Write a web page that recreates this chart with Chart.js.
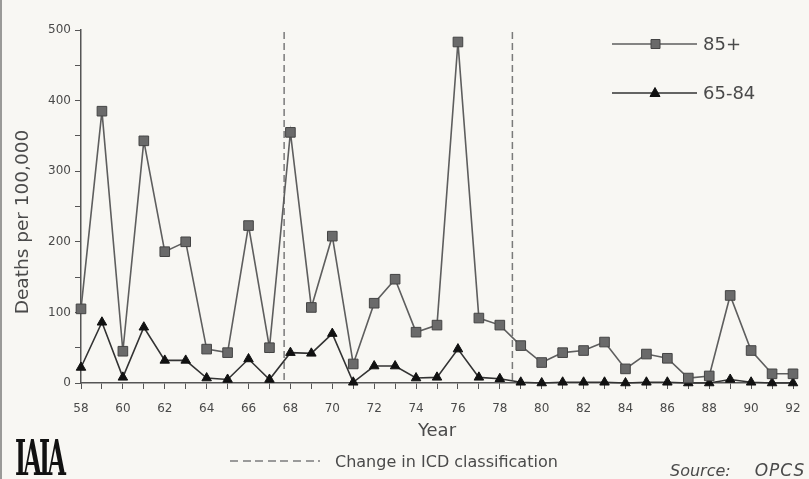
<!DOCTYPE html>
<html>
<head>
<meta charset="utf-8">
<script src="https://cdn.jsdelivr.net/npm/chart.js@4.4.1/dist/chart.umd.min.js"></script>
<style>
  html, body { margin: 0; padding: 0; background: #f8f7f3; }
  #wrap { position: relative; width: 809px; height: 479px; overflow: hidden; background: #f8f7f3; border-left: 2px solid #9a9a98; box-sizing: border-box; }
  #c { position: absolute; left: 0; top: 0; }
  .ft { position: absolute; font-family: "DejaVu Sans", sans-serif; color: #4a4a4a; white-space: nowrap; }
  #logo { left: 13px; top: 433px; font-family: "DejaVu Serif Condensed", "DejaVu Serif", serif; font-weight: bold; font-size: 48px; line-height: 50px; color: #111; letter-spacing: -5px; transform: scaleX(0.55); transform-origin: left top; }
  #dash { position: absolute; left: 228px; top: 460px; width: 90px; height: 2px; background: repeating-linear-gradient(to right, #9a9a9a 0 8px, transparent 8px 12.6px); }
  #icd { left: 333px; top: 453px; font-size: 16px; line-height: 18px; }
  #src { left: 668px; top: 461px; font-size: 16px; line-height: 19px; font-style: italic; }
  #src span { margin-left: 24px; font-size: 17px; letter-spacing: 1px; }
</style>
</head>
<body>
<div id="wrap">
  <canvas id="c" width="807" height="479"></canvas>
  <div class="ft" id="logo">IAIA</div>
  <div id="dash"></div>
  <div class="ft" id="icd">Change in ICD classification</div>
  <div class="ft" id="src">Source:<span>OPCS</span></div>
</div>
<script>
const years = [58,59,60,61,62,63,64,65,66,67,68,69,70,71,72,73,74,75,76,77,78,79,80,81,82,83,84,85,86,87,88,89,90,91,92];
const deaths85plus = [105,385,45,343,186,200,48,43,223,50,355,107,208,27,113,147,72,82,483,92,82,53,29,43,46,58,20,41,35,7,10,124,46,13,13];
const deaths65to84 = [22,86,8,79,32,32,7,5,34,5,43,42,70,1,24,24,7,8,48,8,6,1,0,1,1,1,0,1,1,0,0,5,1,0,0];
const seriesLabels = ["85+", "65-84"];
const icdChangeYears = [67.7, 78.6];
const yTickLabels = [0,100,200,300,400,500];
const xTickLabels = [58,60,62,64,66,68,70,72,74,76,78,80,82,84,86,88,90,92];
const axisTitleX = "Year";
const axisTitleY = "Deaths per 100,000";

const toPts = vals => years.map((yr, i) => ({ x: yr, y: vals[i] }));

const ink = "#4a4a4a";
const fontFam = "'DejaVu Sans', sans-serif";

const icdLines = {
  id: 'icdLines',
  beforeDatasetsDraw(chart) {
    const { ctx, chartArea, scales } = chart;
    ctx.save();
    ctx.strokeStyle = '#7a7a7a';
    ctx.lineWidth = 1.5;
    ctx.setLineDash([7, 4]);
    icdChangeYears.forEach(v => {
      const x = scales.x.getPixelForValue(v);
      ctx.beginPath();
      ctx.moveTo(x, chartArea.top + 2);
      ctx.lineTo(x, chartArea.bottom);
      ctx.stroke();
    });
    ctx.restore();
  }
};

const yTitle = {
  id: 'yTitle',
  afterDraw(chart) {
    const { ctx } = chart;
    ctx.save();
    ctx.translate(21, 222);
    ctx.rotate(-Math.PI / 2);
    ctx.fillStyle = ink;
    ctx.font = "18.5px " + fontFam;
    ctx.textAlign = 'center';
    ctx.textBaseline = 'middle';
    ctx.fillText(axisTitleY, 0, 0);
    ctx.restore();
  }
};

const customLegend = {
  id: 'customLegend',
  afterDraw(chart) {
    const { ctx } = chart;
    const rows = [44, 93];
    ctx.save();
    chart.data.datasets.forEach((ds, i) => {
      const y = rows[i];
      ctx.strokeStyle = ds.borderColor;
      ctx.lineWidth = 1.5;
      ctx.beginPath();
      ctx.moveTo(610, y);
      ctx.lineTo(695, y);
      ctx.stroke();
      ctx.fillStyle = ds.pointBackgroundColor;
      ctx.strokeStyle = ds.pointBorderColor;
      ctx.lineWidth = 1;
      ctx.beginPath();
      if (ds.pointStyle === 'rect') {
        ctx.rect(649, y - 4.5, 9, 9);
      } else {
        ctx.moveTo(653, y - 5.5); ctx.lineTo(658, y + 3.5); ctx.lineTo(648, y + 3.5); ctx.closePath();
      }
      ctx.fill();
      ctx.stroke();
      ctx.fillStyle = ink;
      ctx.font = "18px " + fontFam;
      ctx.textBaseline = 'middle';
      ctx.textAlign = 'left';
      ctx.fillText(ds.label, 701, y + 1);
    });
    ctx.restore();
  }
};

new Chart(document.getElementById('c'), {
  type: 'line',
  data: {
    datasets: [
      {
        label: seriesLabels[0],
        data: toPts(deaths85plus),
        borderColor: '#5e5e5e',
        borderWidth: 1.6,
        pointStyle: 'rect',
        pointRadius: 6.8,
        pointBackgroundColor: '#6a6a6a',
        pointBorderColor: '#444',
        pointBorderWidth: 1,
        tension: 0,
        clip: false
      },
      {
        label: seriesLabels[1],
        data: toPts(deaths65to84),
        borderColor: '#333',
        borderWidth: 1.6,
        pointStyle: 'triangle',
        pointRadius: 5.5,
        pointBackgroundColor: '#111',
        pointBorderColor: '#111',
        pointBorderWidth: 1,
        tension: 0,
        clip: false
      }
    ]
  },
  options: {
    responsive: false,
    animation: false,
    devicePixelRatio: 1,
    layout: { padding: { top: 30, right: 16, bottom: 37, left: 0 } },
    plugins: { legend: { display: false }, tooltip: { enabled: false } },
    scales: {
      x: {
        type: 'linear',
        min: 58, max: 92,
        border: { display: true, color: '#555', width: 1.5 },
        grid: { display: true, drawOnChartArea: false, drawTicks: true, tickLength: 6, color: '#555', tickWidth: 1 },
        ticks: {
          stepSize: 1, autoSkip: false, maxRotation: 0, color: ink, padding: 13,
          font: { family: fontFam, size: 12 },
          callback: v => xTickLabels.includes(v) ? String(v) : ''
        },
        title: { display: true, text: axisTitleX, color: ink, font: { family: fontFam, size: 18 }, padding: { top: 2, bottom: 0 } },
        afterFit: s => { s.height = 59; s.paddingLeft = 0; s.paddingRight = 0; }
      },
      y: {
        min: 0, max: 500,
        border: { display: true, color: '#555', width: 1.5 },
        grid: { display: true, drawOnChartArea: false, drawTicks: true, tickLength: 6, color: '#555', tickWidth: 1 },
        ticks: {
          stepSize: 50, autoSkip: false, color: ink, padding: 4,
          font: { family: fontFam, size: 12 },
          callback: v => yTickLabels.includes(v) ? String(v) : ''
        },
        title: { display: false, text: axisTitleY },
        afterFit: s => { s.width = 79; }
      }
    }
  },
  plugins: [icdLines, customLegend, yTitle]
});
</script>
</body>
</html>
